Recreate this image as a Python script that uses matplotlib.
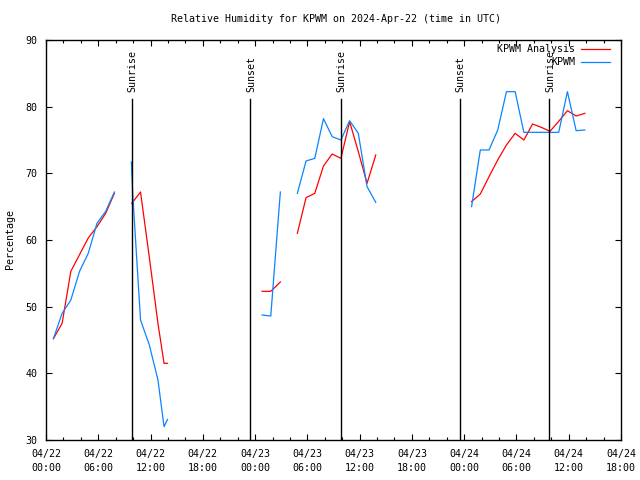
import numpy as np
import matplotlib
matplotlib.use("Agg")
import matplotlib.pyplot as plt
from matplotlib.ticker import MultipleLocator, FuncFormatter
from matplotlib.lines import Line2D
from datetime import datetime, timedelta

nan = np.nan
base = datetime(2024, 4, 22, 0, 0)

# hours since 2024-04-22 00:00 UTC
obs_t = [0.85, 1.85, 2.85, 3.85, 4.85, 5.85, 6.85, 7.85, nan,
         9.8, 9.95, 10.85, 11.85, 12.85, 13.55, 13.95, nan,
         24.8, 25.8, 26.9, nan,
         28.85, 29.85, 30.85, 31.85, 32.85, 33.85, 34.85, 35.85, 36.85, 37.85, nan,
         48.85, 49.85, 50.85, 51.85, 52.85, 53.85, 54.85, 55.85, 56.85, 57.85,
         58.85, 59.85, 60.85, 61.85]
obs_rh = [45.2, 49.0, 51.0, 55.3, 58.0, 62.5, 64.3, 67.2, nan,
          71.7, 67.0, 48.0, 44.3, 39.0, 32.0, 33.1, nan,
          48.75, 48.6, 67.2, nan,
          67.0, 71.85, 72.25, 78.2, 75.5, 75.0, 77.9, 76.0, 68.0, 65.65, nan,
          65.0, 73.5, 73.5, 76.5, 82.25, 82.25, 76.15, 76.15, 76.15, 76.15,
          76.15, 82.25, 76.4, 76.5]

ana_t = [0.85, 1.85, 2.85, 3.85, 4.85, 5.85, 6.85, 7.85, nan,
         9.85, 10.85, 11.85, 12.85, 13.55, 13.95, nan,
         24.8, 25.8, 26.9, nan,
         28.85, 29.85, 30.85, 31.85, 32.85, 33.85, 34.85, 35.85, 36.85, 37.85, nan,
         48.85, 49.85, 50.85, 51.85, 52.85, 53.85, 54.85, 55.85, 56.85, 57.85,
         58.85, 59.85, 60.85, 61.85]
ana_rh = [45.2, 47.5, 55.3, 57.8, 60.3, 62.0, 64.0, 67.0, nan,
          65.5, 67.2, 57.5, 47.5, 41.5, 41.5, nan,
          52.3, 52.3, 53.7, nan,
          61.0, 66.35, 67.0, 71.1, 72.9, 72.25, 77.75, 73.25, 68.5, 72.75, nan,
          65.75, 66.9, 69.5, 72.0, 74.25, 76.0, 75.0, 77.4, 76.9, 76.3,
          77.8, 79.4, 78.6, 79.0]

sunrise_h = [9.87, 33.83, 57.74]
sunset_h = [23.42, 47.52]

series_names = ["KPWM Analysis", "KPWM"]
series_colors = ["#ff0000", "#0a84ff"]

FONT = "DejaVu Sans Mono"
FS = 7.2

fig = plt.figure(figsize=(6.4, 4.8), dpi=100)
ax = fig.add_axes([46/640, 40/480, 575/640, 400/480])

ax.plot(ana_t, ana_rh, color=series_colors[0], lw=0.9)
ax.plot(obs_t, obs_rh, color=series_colors[1], lw=0.9)

top_frac = (440 - 99) / 400
txt_frac = (440 - 92) / 400
for h in sunrise_h:
    ax.axvline(h, ymin=0, ymax=top_frac, color="black", lw=1.0)
    ax.text(h + 0.1, txt_frac, "Sunrise", transform=ax.get_xaxis_transform(),
            rotation=90, ha="center", va="bottom", fontsize=FS, family=FONT)
for h in sunset_h:
    ax.axvline(h, ymin=0, ymax=top_frac, color="black", lw=1.0)
    ax.text(h + 0.1, txt_frac, "Sunset", transform=ax.get_xaxis_transform(),
            rotation=90, ha="center", va="bottom", fontsize=FS, family=FONT)

ax.set_xlim(0, 66)
ax.set_ylim(30, 90)
ax.xaxis.set_major_locator(MultipleLocator(6))
ax.xaxis.set_minor_locator(MultipleLocator(2))
ax.yaxis.set_major_locator(MultipleLocator(10))


def fmt(x, pos):
    d = base + timedelta(hours=float(x))
    return d.strftime("%m/%d\n%H:%M")


ax.xaxis.set_major_formatter(FuncFormatter(fmt))
ax.tick_params(which="both", direction="in", top=True, right=True,
               labelsize=FS, width=0.8, color="black")
ax.tick_params(which="major", length=4.5)
ax.tick_params(which="minor", length=2.5)
ax.tick_params(axis="x", which="major", pad=6.5)
ax.tick_params(axis="y", which="major", pad=6)
for lab in ax.get_xticklabels() + ax.get_yticklabels():
    lab.set_family(FONT)
for lab in ax.get_xticklabels():
    lab.set_linespacing(1.45)
for sp in ax.spines.values():
    sp.set_linewidth(1.0)

fig.text(336/640, 1 - 19/480, "Relative Humidity for KPWM on 2024-Apr-22 (time in UTC)",
         ha="center", va="center", fontsize=FS, family=FONT)
fig.text(10.5/640, 1 - 239/480, "Percentage", rotation=90, ha="center",
         va="center", fontsize=FS, family=FONT)

# legend (key entries), right-aligned text as in the reference
leg_y = [(440 - 49) / 400, (440 - 62.5) / 400]
for name, col, yy in zip(series_names, series_colors, leg_y):
    ax.text((575 - 46) / 575, yy, name, transform=ax.transAxes, ha="right",
            va="center", fontsize=FS, family=FONT)
    ax.add_line(Line2D([(581 - 46) / 575, (610 - 46) / 575], [yy, yy],
                       transform=ax.transAxes, color=col, lw=0.9))

fig.savefig("out.png", dpi=100)
